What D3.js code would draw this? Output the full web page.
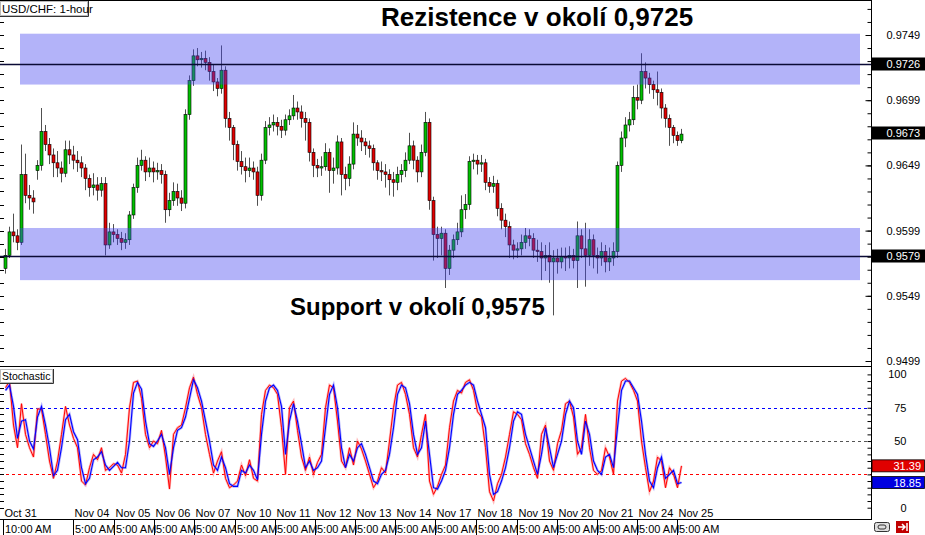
<!DOCTYPE html>
<html><head><meta charset="utf-8">
<script src="https://cdn.jsdelivr.net/npm/d3@7"></script>
<style>
body{margin:0;background:#fff;overflow:hidden}
svg{display:block}
text{font-family:"Liberation Sans",Arial,sans-serif}
</style>
</head><body>
<svg id="c" width="925" height="535"></svg>
<script>
// ---------- DATA ----------
const opens=[0.9570,0.9580,0.9598,0.9595,0.9590,0.9642,0.9626,0.9624,0.9645,0.9649,
0.9675,0.9665,0.9657,0.9651,0.9647,0.9643,0.9661,0.9657,0.9653,0.9651,
0.9647,0.9639,0.9632,0.9634,0.9630,0.9635,0.9588,0.9598,0.9596,0.9593,
0.9590,0.9592,0.9611,0.9632,0.9649,0.9653,0.9644,0.9647,0.9644,0.9645,
0.9642,0.9615,0.9622,0.9629,0.9624,0.9620,0.9688,0.9714,0.9733,0.9730,
0.9731,0.9728,0.9721,0.9713,0.9708,0.9722,0.9685,0.9678,0.9665,0.9652,
0.9648,0.9645,0.9647,0.9644,0.9626,0.9653,0.9678,0.9680,0.9682,0.9679,
0.9676,0.9684,0.9687,0.9693,0.9690,0.9685,0.9682,0.9659,0.9649,0.9647,
0.9648,0.9659,0.9645,0.9647,0.9667,0.9642,0.9639,0.9650,0.9673,0.9670,
0.9667,0.9664,0.9662,0.9651,0.9645,0.9644,0.9642,0.9638,0.9636,0.9642,
0.9645,0.9653,0.9664,0.9653,0.9644,0.9659,0.9682,0.9622,0.9596,0.9593,
0.9597,0.9570,0.9584,0.9592,0.9598,0.9615,0.9619,0.9652,0.9653,0.9650,
0.9651,0.9636,0.9633,0.9635,0.9616,0.9607,0.9602,0.9588,0.9584,0.9585,
0.9590,0.9595,0.9593,0.9584,0.9583,0.9578,0.9580,0.9575,0.9578,0.9575,
0.9579,0.9578,0.9580,0.9576,0.9595,0.9585,0.9580,0.9592,0.9580,0.9578,
0.9583,0.9575,0.9578,0.9583,0.9649,0.9670,0.9680,0.9684,0.9701,0.9699,
0.9721,0.9716,0.9711,0.9707,0.9705,0.9693,0.9685,0.9678,0.9672,0.9668];
const highs=[0.9585,0.9602,0.9612,0.9600,0.9665,0.9658,0.9634,0.9630,0.9653,0.9693,
0.9680,0.9670,0.9662,0.9660,0.9652,0.9668,0.9668,0.9664,0.9660,0.9656,
0.9650,0.9642,0.9643,0.9640,0.9640,0.9640,0.9605,0.9604,0.9600,0.9598,
0.9597,0.9614,0.9635,0.9655,0.9661,0.9656,0.9655,0.9652,0.9651,0.9650,
0.9645,0.9628,0.9636,0.9635,0.9630,0.9692,0.9718,0.9738,0.9739,0.9736,
0.9737,0.9732,0.9726,0.9716,0.9741,0.9725,0.9690,0.9680,0.9668,0.9660,
0.9655,0.9655,0.9652,0.9648,0.9658,0.9683,0.9686,0.9688,0.9686,0.9684,
0.9688,0.9692,0.9703,0.9698,0.9695,0.9690,0.9685,0.9662,0.9654,0.9656,
0.9666,0.9662,0.9655,0.9672,0.9670,0.9648,0.9656,0.9682,0.9680,0.9676,
0.9670,0.9668,0.9665,0.9653,0.9652,0.9650,0.9646,0.9644,0.9648,0.9650,
0.9659,0.9674,0.9668,0.9656,0.9665,0.9690,0.9685,0.9625,0.9602,0.9602,
0.9600,0.9588,0.9596,0.9605,0.9626,0.9627,0.9656,0.9658,0.9657,0.9657,
0.9654,0.9640,0.9641,0.9638,0.9620,0.9612,0.9606,0.9592,0.9590,0.9596,
0.9601,0.9600,0.9597,0.9592,0.9590,0.9588,0.9590,0.9584,0.9585,0.9586,
0.9586,0.9587,0.9585,0.9606,0.9600,0.9605,0.9600,0.9596,0.9586,0.9590,
0.9588,0.9586,0.9590,0.9652,0.9675,0.9686,0.9690,0.9710,0.9711,0.9735,
0.9728,0.9720,0.9714,0.9721,0.9708,0.9696,0.9688,0.9680,0.9675,0.9677];
const lows=[0.9566,0.9578,0.9590,0.9584,0.9588,0.9620,0.9615,0.9612,0.9638,0.9645,
0.9660,0.9650,0.9640,0.9640,0.9636,0.9640,0.9650,0.9646,0.9644,0.9640,
0.9630,0.9625,0.9626,0.9622,0.9625,0.9580,0.9585,0.9590,0.9588,0.9584,
0.9585,0.9588,0.9608,0.9628,0.9645,0.9637,0.9640,0.9636,0.9638,0.9635,
0.9605,0.9610,0.9618,0.9618,0.9614,0.9616,0.9684,0.9710,0.9725,0.9724,
0.9722,0.9714,0.9706,0.9702,0.9704,0.9678,0.9668,0.9653,0.9645,0.9642,
0.9636,0.9640,0.9638,0.9618,0.9622,0.9650,0.9672,0.9675,0.9672,0.9670,
0.9672,0.9680,0.9684,0.9684,0.9678,0.9668,0.9652,0.9640,0.9640,0.9641,
0.9645,0.9628,0.9635,0.9642,0.9626,0.9630,0.9633,0.9646,0.9664,0.9660,
0.9657,0.9655,0.9645,0.9638,0.9637,0.9632,0.9626,0.9625,0.9630,0.9636,
0.9640,0.9650,0.9646,0.9636,0.9640,0.9656,0.9615,0.9576,0.9578,0.9580,
0.9555,0.9565,0.9578,0.9588,0.9594,0.9608,0.9615,0.9646,0.9642,0.9644,
0.9630,0.9628,0.9628,0.9610,0.9600,0.9594,0.9578,0.9577,0.9578,0.9580,
0.9585,0.9587,0.9578,0.9575,0.9561,0.9568,0.9559,0.9534,0.9566,0.9570,
0.9568,0.9570,0.9570,0.9555,0.9578,0.9556,0.9572,0.9570,0.9566,0.9572,
0.9567,0.9568,0.9572,0.9578,0.9644,0.9663,0.9675,0.9680,0.9692,0.9696,
0.9708,0.9704,0.9700,0.9695,0.9685,0.9678,0.9664,0.9666,0.9664,0.9666];
const closes=[0.9580,0.9598,0.9595,0.9590,0.9642,0.9626,0.9624,0.9621,0.9649,0.9675,
0.9665,0.9657,0.9651,0.9647,0.9643,0.9661,0.9657,0.9653,0.9651,0.9647,
0.9639,0.9632,0.9634,0.9630,0.9635,0.9588,0.9598,0.9596,0.9593,0.9590,
0.9592,0.9611,0.9632,0.9649,0.9653,0.9644,0.9647,0.9644,0.9645,0.9642,
0.9615,0.9622,0.9629,0.9624,0.9620,0.9688,0.9714,0.9733,0.9730,0.9731,
0.9728,0.9721,0.9713,0.9708,0.9722,0.9685,0.9678,0.9665,0.9652,0.9648,
0.9645,0.9647,0.9644,0.9626,0.9653,0.9678,0.9680,0.9682,0.9679,0.9676,
0.9684,0.9687,0.9693,0.9690,0.9685,0.9682,0.9659,0.9649,0.9647,0.9648,
0.9659,0.9645,0.9647,0.9667,0.9642,0.9639,0.9650,0.9673,0.9670,0.9667,
0.9664,0.9662,0.9651,0.9645,0.9644,0.9642,0.9638,0.9636,0.9642,0.9645,
0.9653,0.9664,0.9653,0.9644,0.9659,0.9682,0.9622,0.9596,0.9593,0.9597,
0.9570,0.9584,0.9592,0.9598,0.9615,0.9619,0.9652,0.9653,0.9650,0.9651,
0.9636,0.9633,0.9635,0.9616,0.9607,0.9602,0.9588,0.9584,0.9585,0.9590,
0.9595,0.9593,0.9584,0.9583,0.9578,0.9580,0.9575,0.9578,0.9575,0.9579,
0.9578,0.9580,0.9576,0.9595,0.9585,0.9580,0.9592,0.9580,0.9578,0.9583,
0.9575,0.9578,0.9583,0.9649,0.9670,0.9680,0.9684,0.9701,0.9699,0.9721,
0.9716,0.9711,0.9707,0.9705,0.9693,0.9685,0.9678,0.9672,0.9668,0.9673];
const stochK=[90,95,62,45,78,55,45,38,74,74,
55,35,22,35,55,76,62,52,45,20,
17,30,40,36,45,28,30,33,32,26,
40,75,94,95,82,55,45,50,48,58,
38,14,55,60,62,75,90,98,85,75,
55,40,26,35,42,22,15,17,20,32,
24,36,22,20,70,88,92,90,85,60,
25,75,80,58,38,28,38,25,34,40,
75,92,90,65,35,30,45,32,50,44,
35,25,15,20,30,26,50,75,92,94,
85,70,45,38,55,70,20,10,16,25,
32,60,80,88,86,94,96,88,72,68,
45,12,5,18,25,38,55,72,70,66,
48,40,30,22,55,62,35,28,48,58,
78,80,68,40,45,70,45,28,25,28,
45,38,25,80,95,97,94,88,80,50,
30,12,20,38,35,15,30,25,15,31.39];
const stochD=[88,92,76,52,65,66,50,44,68,76,
62,45,24,28,45,66,70,57,51,30,
18,22,36,38,42,32,28,31,34,30,
30,50,86,94,89,65,48,46,50,55,
45,25,45,58,60,68,82,96,90,80,
65,50,32,28,38,30,18,16,16,28,
26,32,28,21,55,80,90,92,88,76,
40,65,78,65,48,30,35,28,30,35,
60,85,92,75,45,30,40,35,45,48,
40,30,20,18,25,28,40,60,85,92,
90,78,55,40,45,65,40,15,14,20,
28,45,70,85,88,92,94,92,80,70,
60,25,10,12,20,30,45,65,72,70,
55,45,35,25,40,60,45,30,40,50,
70,80,75,50,40,65,55,35,28,25,
38,40,30,60,88,95,95,90,85,65,
40,20,15,30,38,22,25,28,18,18.85];
const dayLabels=["Oct 31","Nov 04","Nov 05","Nov 06","Nov 07","Nov 10","Nov 11","Nov 12","Nov 13","Nov 14","Nov 17","Nov 18","Nov 19","Nov 20","Nov 21","Nov 24","Nov 25"];
const timeLabels=["10:00 AM","5:00 AM","5:00 AM","5:00 AM","5:00 AM","5:00 AM","5:00 AM","5:00 AM","5:00 AM","5:00 AM","5:00 AM","5:00 AM","5:00 AM","5:00 AM","5:00 AM","5:00 AM","5:00 AM"];
const dayStartIdx=[-0.575,17.075,27.25,37.25,47.25,57.4,67.4,77.5,87.6,97.6,107.6,117.7,127.9,137.9,147.9,157.9,168.1];
const priceTickLabels=[0.9499,0.9549,0.9599,0.9649,0.9699,0.9749];
const zones=[[0.9711,0.9750],[0.9561,0.9601]];
const levelLines=[0.9726,0.9579];
const markedPrices=[0.9726,0.9673,0.9579];
const stochLevels=[{v:75,c:"#0000ff"},{v:50,c:"#555"},{v:25,c:"#ff0000"}];
const stochTickLabels=[100,75,50,0];
const symbolTitle="USD/CHF: 1-hour";
const indicatorTitle="Stochastic";
const noteResistance="Rezistence v okolí 0,9725";
const noteSupport="Support v okolí 0,9575";

// ---------- CHART ----------
const svg=d3.select("#c");
const R=871.5;
const n=closes.length;
const x=d3.scaleLinear().domain([0,n-1]).range([5,5+4*(n-1)]);
const y=d3.scaleLinear().domain([0.9499,0.9749]).range([361,35]);
const ys=d3.scaleLinear().domain([0,100]).range([507.7,374.4]);
const defs=svg.append("defs");
defs.append("clipPath").attr("id","mclip").append("rect").attr("x",0).attr("y",1).attr("width",R).attr("height",365);
defs.append("clipPath").attr("id","sclip").append("rect").attr("x",0).attr("y",368).attr("width",R).attr("height",151);

const main=svg.append("g").attr("clip-path","url(#mclip)");
const idx=d3.range(n);
main.selectAll("line.w").data(idx).join("line").attr("class","w")
  .attr("x1",i=>x(i)+0.5).attr("x2",i=>x(i)+0.5)
  .attr("y1",i=>y(highs[i])).attr("y2",i=>y(lows[i]))
  .attr("stroke","#505050").attr("stroke-width",1);
main.selectAll("rect.b").data(idx).join("rect").attr("class","b")
  .attr("x",i=>x(i)-1).attr("width",3)
  .attr("y",i=>y(Math.max(opens[i],closes[i])))
  .attr("height",i=>Math.max(1,Math.abs(y(opens[i])-y(closes[i]))))
  .attr("fill",i=>closes[i]>=opens[i]?"#00c000":"#e00000")
  .attr("stroke","#000").attr("stroke-width",0.6);

// zones
main.selectAll("rect.z").data(zones).join("rect").attr("class","z")
  .attr("x",20).attr("width",840)
  .attr("y",d=>y(d[1])).attr("height",d=>y(d[0])-y(d[1]))
  .attr("fill","rgb(64,64,240)").attr("fill-opacity",0.4);
main.selectAll("line.l").data(levelLines).join("line").attr("class","l")
  .attr("x1",0).attr("x2",R).attr("y1",d=>Math.round(y(d))-0.5).attr("y2",d=>Math.round(y(d))-0.5)
  .attr("stroke","#0a0a35").attr("stroke-width",1.6);

// left edge ticks
const minorPrices=d3.range(0.9489,0.9775,0.001);
svg.append("g").selectAll("line").data(minorPrices.filter(p=>y(p)>2&&y(p)<365)).join("line")
  .attr("x1",0).attr("x2",4).attr("y1",d=>Math.round(y(d))+0.5).attr("y2",d=>Math.round(y(d))+0.5)
  .attr("stroke","#000");

// right price axis
const axMinor=d3.axisRight(y).tickValues(minorPrices.filter(p=>y(p)>2&&y(p)<365)).tickSize(-4).tickFormat("");
const gMin=svg.append("g").attr("transform",`translate(${R},0)`).call(axMinor);
gMin.select(".domain").remove();
const axMajor=d3.axisRight(y).tickValues(priceTickLabels).tickSize(-6).tickPadding(15).tickFormat(d3.format(".4f"));
const gMaj=svg.append("g").attr("transform",`translate(${R},0)`).call(axMajor);
gMaj.select(".domain").remove();
gMaj.selectAll("text").attr("font-size",11).attr("font-family","Liberation Sans, Arial, sans-serif").attr("fill","#000");

// price boxes
const pb=svg.append("g").selectAll("g").data(markedPrices).join("g");
pb.append("rect").attr("x",R+0.5).attr("width",925-R).attr("y",d=>Math.round(y(d))-7.5).attr("height",13).attr("fill","#000");
pb.append("text").attr("x",R+15).attr("y",d=>Math.round(y(d))+3).attr("font-size",11).attr("fill","#fff").text(d=>d3.format(".4f")(d));

// annotations
svg.append("text").attr("x",381).attr("y",26).attr("font-size",26).attr("font-weight","bold").attr("fill","#000").text(noteResistance);
svg.append("text").attr("x",290).attr("y",315).attr("font-size",24).attr("font-weight","bold").attr("fill","#000").text(noteSupport);

// title box
const tb=svg.append("g");
tb.append("rect").attr("x",0.5).attr("y",1.5).attr("width",87).attr("height",14).attr("fill","#fff").attr("stroke","#bbb");
tb.append("path").attr("d","M0,16.5H88.5V1").attr("fill","none").attr("stroke","#333");
tb.append("text").attr("x",2).attr("y",12.5).attr("font-size",11.5).text(symbolTitle);

// ---------- STOCHASTIC ----------
const st=svg.append("g").attr("clip-path","url(#sclip)");
st.selectAll("line.lv").data(stochLevels).join("line").attr("class","lv")
  .attr("x1",0).attr("x2",R).attr("y1",d=>Math.round(ys(d.v))+0.5).attr("y2",d=>Math.round(ys(d.v))+0.5)
  .attr("stroke",d=>d.c).attr("stroke-dasharray","3,3").attr("stroke-width",1);
const line=d3.line().x((d,i)=>x(i)+0.5).y(d=>ys(d));
st.append("path").datum(stochK).attr("d",line).attr("fill","none").attr("stroke","#ff8080").attr("stroke-width",2.4).attr("stroke-opacity",0.55);
st.append("path").datum(stochD).attr("d",line).attr("fill","none").attr("stroke","#8080ff").attr("stroke-width",2.6).attr("stroke-opacity",0.6);
st.append("path").datum(stochK).attr("d",line).attr("fill","none").attr("stroke","#ff0000").attr("stroke-width",1);
st.append("path").datum(stochD).attr("d",line).attr("fill","none").attr("stroke","#0000ff").attr("stroke-width",1.1);

// stoch left ticks
const sTicks=d3.range(0,101,5);
svg.append("g").selectAll("line").data(sTicks).join("line")
  .attr("x1",0).attr("x2",4).attr("y1",d=>Math.round(ys(d))+0.5).attr("y2",d=>Math.round(ys(d))+0.5).attr("stroke","#000");
const axS=d3.axisRight(ys).tickValues(sTicks).tickSize(-4).tickFormat("");
const gS=svg.append("g").attr("transform",`translate(${R},0)`).call(axS);
gS.select(".domain").remove();
const axSL=d3.axisRight(ys).tickValues(stochTickLabels).tickSize(0).tickPadding(35);
const gSL=svg.append("g").attr("transform",`translate(${R},0)`).call(axSL);
gSL.select(".domain").remove();
gSL.selectAll("text").attr("text-anchor","end").attr("font-size",11).attr("font-family","Liberation Sans, Arial, sans-serif").attr("fill","#000");

// stoch value boxes
const lastVals=[{v:stochK[n-1],c:"#e00000"},{v:stochD[n-1],c:"#0000e0"}];
const sb=svg.append("g").selectAll("g").data(lastVals).join("g");
sb.append("rect").attr("x",R+0.5).attr("width",925-R-1).attr("y",d=>ys(d.v)-6).attr("height",12).attr("fill",d=>d.c).attr("stroke","#000").attr("stroke-width",0.8);
sb.append("text").attr("x",921).attr("y",d=>ys(d.v)+4).attr("text-anchor","end").attr("font-size",11).attr("fill","#fff").text(d=>d3.format(".2f")(d.v));

// stoch title box
const sbx=svg.append("g");
sbx.append("rect").attr("x",0.5).attr("y",369.5).attr("width",52).attr("height",13).attr("fill","#fff").attr("stroke","#bbb");
sbx.append("path").attr("d","M0,383.5H53.5V369").attr("fill","none").attr("stroke","#333");
sbx.append("text").attr("x",2).attr("y",379.5).attr("font-size",10.5).text(indicatorTitle);

// frames
svg.append("line").attr("x1",0).attr("x2",R).attr("y1",0.5).attr("y2",0.5).attr("stroke","#000");
svg.append("line").attr("x1",0).attr("x2",R).attr("y1",366.5).attr("y2",366.5).attr("stroke","#000");
svg.append("line").attr("x1",0).attr("x2",R).attr("y1",519.5).attr("y2",519.5).attr("stroke","#000");
svg.append("line").attr("x1",R).attr("x2",R).attr("y1",0).attr("y2",520).attr("stroke","#000");

// time axis
const tg=svg.append("g");
tg.selectAll("text.d").data(dayLabels).join("text").attr("class","d")
  .attr("x",(d,i)=>Math.round(x(dayStartIdx[i]))+1.5).attr("y",517).attr("font-size",11).text(d=>d);
tg.selectAll("rect.tb").data(timeLabels).join("rect").attr("class","tb")
  .attr("x",(d,i)=>Math.round(x(dayStartIdx[i]))+0.5).attr("y",520).attr("width",41).attr("height",15).attr("fill","#fff");
tg.selectAll("text.t").data(timeLabels).join("text").attr("class","t")
  .attr("x",(d,i)=>Math.round(x(dayStartIdx[i]))+2).attr("y",533).attr("font-size",11).text(d=>d);
tg.selectAll("line").data(dayStartIdx).join("line")
  .attr("x1",d=>Math.round(x(d))+0.5).attr("x2",d=>Math.round(x(d))+0.5).attr("y1",520).attr("y2",535).attr("stroke","#000");

// corner icons
svg.append("rect").attr("x",874.5).attr("y",522.5).attr("width",15).attr("height",9).attr("rx",2).attr("fill","#ddd").attr("stroke","#333");
svg.append("rect").attr("x",878).attr("y",525).attr("width",8).attr("height",4).attr("rx",2).attr("fill","none").attr("stroke","#333");
svg.append("rect").attr("x",896).attr("y",521).attr("width",13).attr("height",12).attr("fill","#c00000");
svg.append("path").attr("d","M898,527H905M902,524L905,527L902,530M907,523V531").attr("stroke","#fff").attr("stroke-width",1.5).attr("fill","none");
</script>
</body></html>
